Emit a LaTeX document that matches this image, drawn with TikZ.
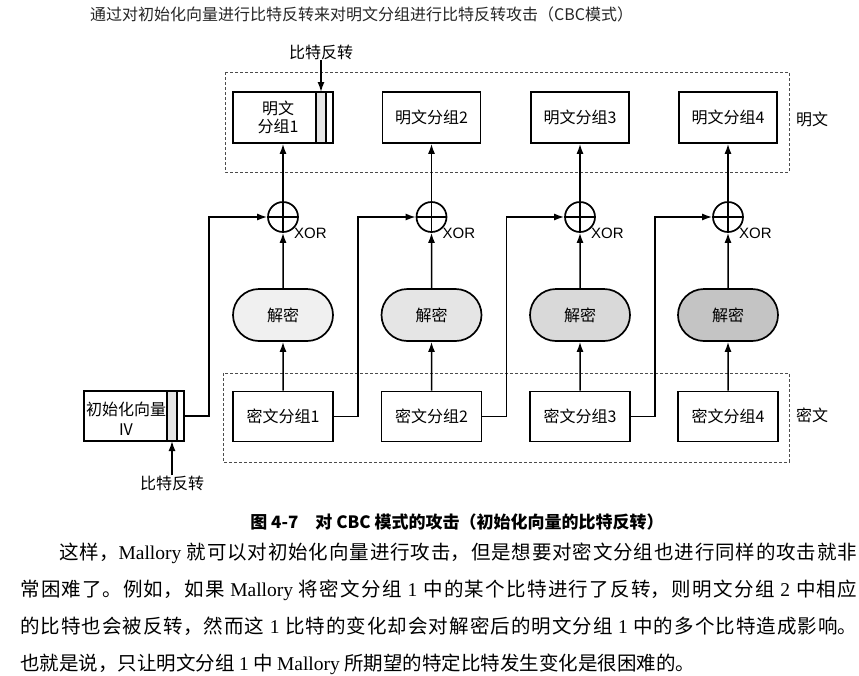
\documentclass[tikz,border=0pt]{standalone}
\usepackage{fontspec}
\setmainfont{Noto Sans CJK SC}
\newfontfamily\lsans{Liberation Sans}
\newfontfamily\lserif{Liberation Serif}
\usetikzlibrary{arrows.meta,shapes.misc}
\newcommand\fsz[1]{\fontsize{#1pt}{#1pt}\selectfont}
\newcommand\lsf[1]{{\lserif #1}}
\newcommand\bodyfont{\fontsize{19.5pt}{37pt}\selectfont\XeTeXlinebreaklocale "zh"\XeTeXlinebreakskip=0pt plus 2pt\relax}
\tikzset{
  box/.style={draw, line width=1.7pt, minimum width=100pt, minimum height=51pt, inner sep=0pt, fill=white, font=\fsz{16}},
  dec/.style={draw, line width=1.7pt, rounded rectangle, minimum width=100pt, minimum height=52pt, inner sep=0pt, font=\fsz{16}},
  xor/.style={circle, draw, line width=1.7pt, minimum size=30pt, inner sep=0pt,
    path picture={\draw[line width=1.4pt] (path picture bounding box.north) -- (path picture bounding box.south)
      (path picture bounding box.west) -- (path picture bounding box.east);}},
  arr/.style={-{Latex[length=10pt,width=7pt]}, line width=1.5pt},
  grp/.style={draw=black!70, dash pattern=on 3pt off 2pt, line width=0.9pt},
  lbl/.style={inner sep=0pt, font=\fsz{16}},
  xl/.style={anchor=west, inner sep=0pt, font=\lsans\fsz{15}},
  strip/.style={fill=black!10, draw, line width=1.1pt}
}
\begin{document}
\begin{tikzpicture}[x=1pt,y=-1pt]
\useasboundingbox (0,0) rectangle (859,675);
\fill[white] (0,0) rectangle (859,675);

% title
\node[anchor=west, inner sep=0pt, font=\fsz{16}, text=black!85] (title) at (90,14) {通过对初始化向量进行比特反转来对明文分组进行比特反转攻击（CBC模式）};

% dashed frames
\draw[grp] (225,72) rectangle (789,172);
\draw[grp] (223,373) rectangle (789,462);
\node[lbl] (lp) at (812,119) {明文};
\node[lbl] (lc) at (812,415) {密文};

% plaintext blocks
\node[box] (p1) at (283,117.5) {};
\draw[strip] (316,92) rectangle (326,143);
\node[lbl, align=center, font=\fontsize{16pt}{18pt}\selectfont] (p1t) at (278,117.5) {明文\\分组1};
\node[box, minimum width=98pt] (p2) at (431.5,117.5) {明文分组2};
\node[box, minimum width=98pt] (p3) at (580,117.5) {明文分组3};
\node[box, minimum width=98pt] (p4) at (728,117.5) {明文分组4};

% bit flip on plaintext 1
\node[lbl] (bf1) at (321,52) {比特反转};
\coordinate (bf1t) at (321,92);
\draw[arr] (bf1) -- (bf1t);

% xor
\node[xor] (x1) at (283,217) {};
\node[xor] (x2) at (431.5,217) {};
\node[xor] (x3) at (580,217) {};
\node[xor] (x4) at (728,217) {};
\node[xl] (xl1) at (294,233) {XOR};
\node[xl] (xl2) at (442.5,233) {XOR};
\node[xl] (xl3) at (591,233) {XOR};
\node[xl] (xl4) at (739,233) {XOR};

% decrypt
\node[dec, fill=black!6] (d1) at (283,315) {解密};
\node[dec, fill=black!10] (d2) at (431.5,315) {解密};
\node[dec, fill=black!15] (d3) at (580,315) {解密};
\node[dec, fill=black!23] (d4) at (728,315) {解密};

% ciphertext blocks
\node[box, minimum height=50pt] (c1) at (283,416.5) {密文分组1};
\node[box, minimum height=50pt] (c2) at (431.5,416.5) {密文分组2};
\node[box, minimum height=50pt] (c3) at (580,416.5) {密文分组3};
\node[box, minimum height=50pt] (c4) at (728,416.5) {密文分组4};

% IV
\node[box, minimum height=50pt] (iv) at (134,416) {};
\draw[strip] (167,391) rectangle (177,441);
\node[lbl, align=center, font=\fontsize{16pt}{20pt}\selectfont] (ivt) at (126,419) {初始化向量\\IV};
\node[lbl] (bf2) at (172,483) {比特反转};
\coordinate (bf2t) at (172,441);
\draw[arr] (bf2) -- (bf2t);

% vertical flows
\foreach \i in {1,2,3,4}{
  \draw[arr] (c\i) -- (d\i);
  \draw[arr] (d\i) -- (x\i);
  \draw[arr] (x\i) -- (p\i);
}
% chaining
\draw[arr] (iv.east) -- ++(24,0) |- (x1.west);
\draw[arr] (c1.east) -- ++(24,0) |- (x2.west);
\draw[arr] (c2.east) -- ++(24,0) |- (x3.west);
\draw[arr] (c3.east) -- ++(24,0) |- (x4.west);

% caption
\node[inner sep=0pt, font=\fsz{17}\bfseries] (cap) at (457,522) {图 4-7\hspace{1em}对 CBC 模式的攻击（初始化向量的比特反转）};

% body text
\node[anchor=north west, inner sep=0pt, text width=837pt, align=justify, font=\bodyfont] (body) at (20,543) {\hspace*{2em}这样，\lsf{Mallory} 就可以对初始化向量进行攻击，但是想要对密文分组也进行同样的攻击就非\linebreak
常困难了。例如，如果 \lsf{Mallory} 将密文分组 \lsf{1} 中的某个比特进行了反转，则明文分组 \lsf{2} 中相应\linebreak
的比特也会被反转，然而这 \lsf{1} 比特的变化却会对解密后的明文分组 \lsf{1} 中的多个比特造成影响。\linebreak
也就是说，只让明文分组 \lsf{1} 中 \lsf{Mallory} 所期望的特定比特发生变化是很困难的。};
\end{tikzpicture}
\end{document}
